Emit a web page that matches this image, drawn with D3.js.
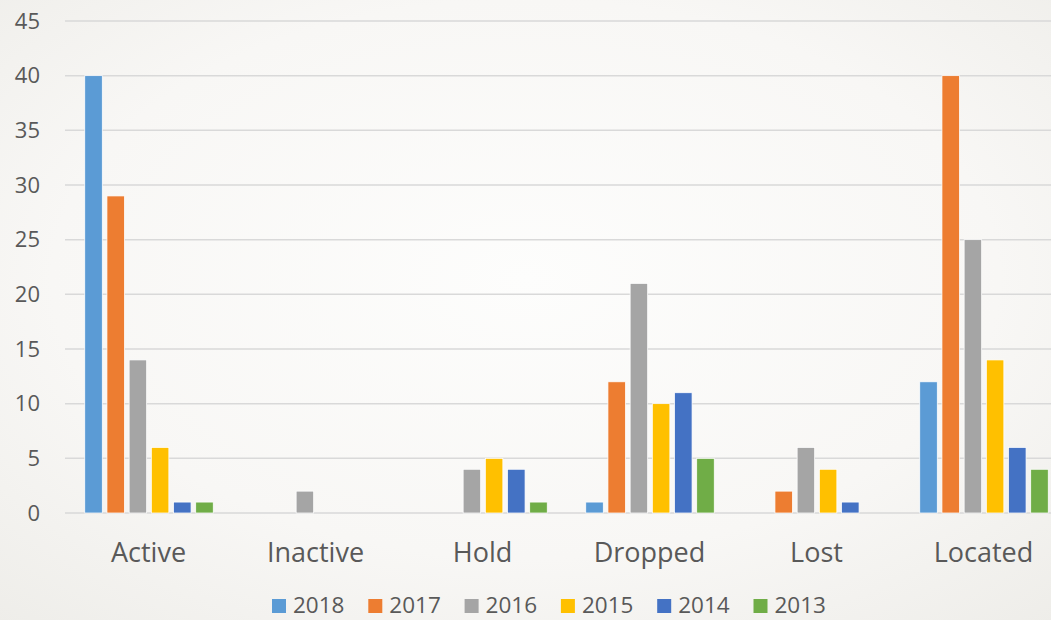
<!DOCTYPE html>
<html>
<head>
<meta charset="utf-8">
<script src="https://cdn.jsdelivr.net/npm/d3@7"></script>
<style>
  html, body { margin: 0; padding: 0; overflow: hidden; }
  body { width: 1051px; height: 620px; }
  text { font-family: "Open Sans", "Noto Sans", sans-serif; fill: #595959; }
</style>
</head>
<body>
<div id="container"></div>
<script>
/* CONSTANTS AND GLOBALS */
const width = 1051,
  height = 620,
  margin = {top: 21, bottom: 107, left: 65, right: -16};

// data
const categories = ["Active", "Inactive", "Hold", "Dropped", "Lost", "Located"];
const years = ["2018", "2017", "2016", "2015", "2014", "2013"];
const values2018 = [40, 0, 0, 1, 0, 12];
const values2017 = [29, 0, 0, 12, 2, 40];
const values2016 = [14, 2, 4, 21, 6, 25];
const values2015 = [6, 0, 5, 10, 4, 14];
const values2014 = [1, 0, 4, 11, 1, 6];
const values2013 = [1, 0, 1, 5, 0, 4];
const yTicks = [0, 5, 10, 15, 20, 25, 30, 35, 40, 45];
const colors = ["#5B9BD5", "#ED7D31", "#A5A5A5", "#FFC000", "#4472C4", "#70AD47"];

const seriesValues = [values2018, values2017, values2016, values2015, values2014, values2013];
const rows = [];
categories.forEach((c, ci) => {
  years.forEach((y, yi) => rows.push({category: c, year: y, value: seriesValues[yi][ci]}));
});

// svg
const svg = d3.select("#container")
  .append("svg")
  .attr("width", width)
  .attr("height", height);

// background gradient
const defs = svg.append("defs");
const grad = defs.append("radialGradient")
  .attr("id", "bg")
  .attr("cx", "50%").attr("cy", "45%").attr("r", "75%");
grad.append("stop").attr("offset", "0%").attr("stop-color", "#fdfdfc");
grad.append("stop").attr("offset", "60%").attr("stop-color", "#f8f7f5");
grad.append("stop").attr("offset", "100%").attr("stop-color", "#eeede9");

svg.append("rect")
  .attr("width", width)
  .attr("height", height)
  .attr("fill", "url(#bg)");

// + SCALES
const xScale = d3.scaleBand()
  .domain(categories)
  .range([margin.left, width - margin.right])
  .padding(0);

const xInner = d3.scaleBand()
  .domain(years)
  .range([19.75, 148.25])
  .paddingInner(0.21);

const yScale = d3.scaleLinear()
  .domain([0, 45])
  .range([height - margin.bottom, margin.top]);

// gridlines
svg.append("g")
  .selectAll("line")
  .data(yTicks)
  .join("line")
  .attr("x1", margin.left)
  .attr("x2", width)
  .attr("y1", d => yScale(d))
  .attr("y2", d => yScale(d))
  .attr("stroke", "#d9d9d9")
  .attr("stroke-width", 1.5);

// y axis labels
const yAxis = d3.axisLeft(yScale).tickValues(yTicks).tickSize(0).tickPadding(0);
const yAxisGroup = svg.append("g")
  .attr("transform", `translate(40,0)`)
  .call(yAxis);
yAxisGroup.select(".domain").remove();
yAxisGroup.selectAll("text")
  .attr("font-size", 22)
  .attr("font-family", null)
  .attr("fill", "#595959");

// bars
svg.append("g")
  .selectAll("rect")
  .data(rows.filter(d => d.value > 0))
  .join("rect")
  .attr("x", d => xScale(d.category) + xInner(d.year))
  .attr("width", xInner.bandwidth())
  .attr("y", d => yScale(d.value))
  .attr("height", d => yScale(0) - yScale(d.value))
  .attr("fill", d => colors[years.indexOf(d.year)])
  .attr("stroke", "#ffffff")
  .attr("stroke-width", 0.75);

// x axis labels
const xAxis = d3.axisBottom(xScale).tickSize(0).tickPadding(0);
const xAxisGroup = svg.append("g")
  .attr("transform", `translate(0,${yScale(0)})`)
  .call(xAxis);
xAxisGroup.select(".domain").remove();
xAxisGroup.selectAll("text")
  .attr("font-size", 27)
  .attr("font-family", null)
  .attr("fill", "#595959")
  .attr("dy", null)
  .attr("y", 49);

// legend
const legend = svg.append("g")
  .selectAll("g")
  .data(years)
  .join("g")
  .attr("transform", (d, i) => `translate(${272 + i * 96.3},599)`);

legend.append("rect")
  .attr("width", 14)
  .attr("height", 14)
  .attr("fill", (d, i) => colors[i]);

legend.append("text")
  .attr("x", 21)
  .attr("y", 14)
  .attr("font-size", 22.5)
  .text(d => d);
</script>
</body>
</html>
